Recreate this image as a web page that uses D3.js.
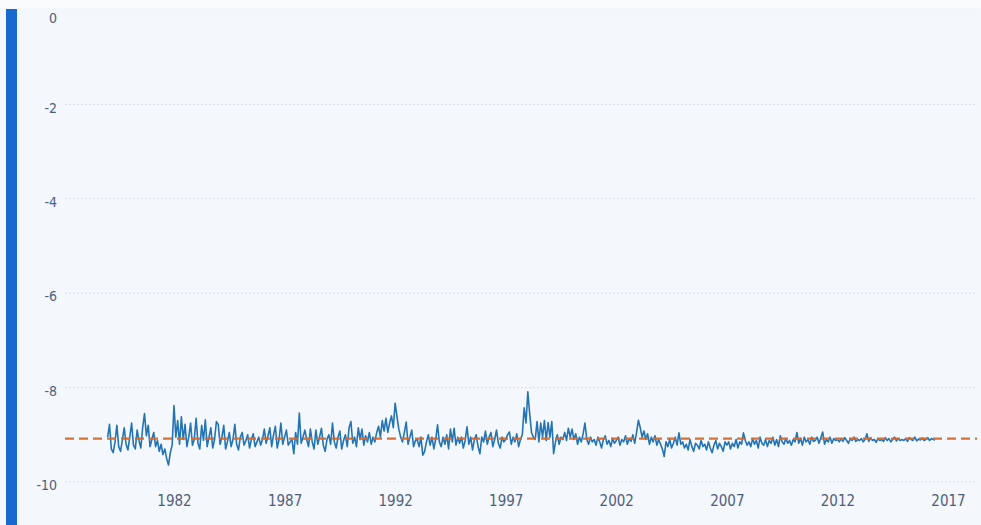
<!DOCTYPE html>
<html>
<head>
<meta charset="utf-8">
<script src="https://cdn.jsdelivr.net/npm/d3@7"></script>
<style>
  html, body { margin: 0; padding: 0; background: #f4f7fb; }
  svg { display: block; }
</style>
</head>
<body>
<svg id="chart" width="981" height="525"></svg>
<script>
// ---- data (monthly values, starting Jan 1979) ----
const startYear = 1979.0;
const values1979_1984 = [
  -9.05, -8.78, -9.30, -9.38, -9.15, -8.80, -9.25, -9.35, -9.10, -8.85, -9.20, -9.32,
  -9.05, -8.75, -9.22, -9.30, -8.90, -9.12, -9.28, -8.85, -8.55, -9.02, -8.80, -9.25,
  -9.10, -8.95, -9.25, -9.12, -9.35, -9.20, -9.42, -9.30, -9.50, -9.64, -9.38, -9.22,
  -8.38, -9.05, -8.70, -9.20, -8.62, -9.10, -8.78, -9.25, -9.05, -8.75, -9.22, -9.10,
  -8.65, -9.18, -9.30, -8.80, -9.12, -8.68, -9.25, -9.05, -8.85, -9.28, -9.10, -8.72,
  -8.78, -9.20, -9.05, -8.80, -9.30, -9.15, -8.95, -9.25, -9.10, -8.78, -9.20, -9.32
];
const values1985_1990 = [
  -9.05, -8.95, -9.22, -9.12, -9.00, -9.28, -9.10, -8.98, -9.25, -9.15, -9.05, -9.22,
  -9.10, -8.88, -9.18, -9.02, -8.85, -9.25, -9.00, -8.82, -9.28, -9.10, -8.75, -9.20,
  -9.05, -8.90, -9.22, -9.15, -9.10, -9.40, -8.95, -9.20, -8.54, -9.18, -9.05, -8.90,
  -9.10, -9.25, -8.88, -9.15, -9.30, -8.90, -9.20, -9.05, -8.86, -9.22, -9.35, -9.10,
  -9.00, -9.20, -8.75, -9.15, -9.28, -9.05, -8.92, -9.30, -9.12, -9.00, -9.25, -8.85,
  -8.72, -9.18, -9.05, -9.25, -8.85, -9.10, -8.88, -9.22, -9.02, -9.15, -8.95, -9.20
];
const values1991_1996 = [
  -9.05, -9.15, -8.95, -8.82, -9.05, -8.70, -8.92, -8.65, -8.95, -8.75, -8.60, -8.85,
  -8.33, -8.62, -8.88, -9.05, -9.15, -8.95, -8.73, -9.20, -9.05, -8.90, -9.25, -9.12,
  -9.10, -9.25, -9.05, -9.43, -9.35, -9.15, -9.00, -9.22, -9.05, -9.30, -9.10, -8.79,
  -9.15, -9.25, -9.05, -9.20, -9.00, -9.30, -8.88, -9.15, -8.86, -9.22, -9.05, -9.18,
  -9.05, -9.28, -9.12, -8.83, -9.20, -9.05, -9.32, -9.10, -9.00, -9.25, -9.40, -9.05,
  -9.15, -8.92, -9.20, -9.05, -8.95, -9.25, -9.10, -8.90, -9.18, -9.28, -9.05, -9.15
];
const values1997_2002 = [
  -9.10, -9.00, -8.94, -9.20, -9.05, -9.15, -8.98, -9.25, -9.10, -9.00, -8.43, -8.75,
  -8.09, -8.55, -8.95, -9.05, -9.10, -8.72, -9.15, -8.75, -9.05, -8.70, -9.12, -8.74,
  -9.05, -8.72, -9.40, -9.15, -9.00, -9.20, -9.05, -9.10, -8.95, -9.12, -8.86, -9.05,
  -8.88, -9.10, -8.98, -9.20, -9.05, -9.15, -8.98, -8.75, -9.10, -9.20, -9.05, -9.15,
  -9.10, -9.22, -9.05, -9.15, -9.28, -9.10, -9.02, -9.20, -9.12, -9.25, -9.08, -9.18,
  -9.12, -9.05, -9.22, -9.10, -9.15, -9.02, -9.20, -9.08, -9.14, -9.00, -9.18, -8.95
];
const values2003_2008 = [
  -8.69, -8.85, -9.05, -8.92, -9.10, -8.98, -9.20, -9.05, -9.15, -9.02, -9.22, -9.10,
  -9.20, -9.30, -9.46, -9.15, -9.25, -9.10, -9.28, -9.18, -9.05, -9.22, -8.96, -9.20,
  -9.15, -9.28, -9.20, -9.32, -9.10, -9.25, -9.35, -9.18, -9.22, -9.30, -9.12, -9.25,
  -9.20, -9.32, -9.15, -9.28, -9.38, -9.22, -9.12, -9.30, -9.18, -9.25, -9.35, -9.15,
  -9.22, -9.15, -9.30, -9.18, -9.25, -9.10, -9.28, -9.15, -9.20, -8.96, -9.12, -9.22,
  -9.15, -9.25, -9.08, -9.20, -9.12, -9.28, -9.05, -9.18, -9.22, -9.10, -9.25, -9.12
];
const values2009_2016 = [
  -9.18, -9.05, -9.22, -9.10, -9.25, -9.02, -9.15, -9.20, -9.08, -9.18, -9.12, -9.22,
  -9.10, -9.15, -8.95, -9.18, -9.08, -9.22, -9.05, -9.15, -9.10, -9.20, -9.05, -9.14,
  -9.12, -9.05, -9.18, -9.06, -8.94, -9.20, -9.10, -9.15, -9.05, -9.18, -9.08, -9.12,
  -9.10, -9.15, -9.08, -9.14, -9.06, -9.12, -9.18, -9.08, -9.12, -9.05, -9.14, -9.10,
  -9.12, -9.08, -9.15, -9.10, -8.98, -9.14, -9.06, -9.12, -9.10, -9.16, -9.08, -9.12,
  -9.10, -9.14, -9.06, -9.12, -9.08, -9.15, -9.10, -9.05, -9.13, -9.08, -9.12, -9.10,
  -9.12, -9.08, -9.14, -9.06, -9.10, -9.12, -9.05, -9.13, -9.09, -9.11, -9.07, -9.12,
  -9.10, -9.06, -9.12, -9.08, -9.10, -9.11
];
const meanLevel = -9.08;
const yTicks = [0, -2, -4, -6, -8, -10];
const xTicks = [1982, 1987, 1992, 1997, 2002, 2007, 2012, 2017];

// ---- build series ----
const allValues = [].concat(values1979_1984, values1985_1990, values1991_1996,
                            values1997_2002, values2003_2008, values2009_2016);
const series = allValues.map((v, i) => ({ t: startYear + i / 12, v }));

// ---- layout ----
const svg = d3.select("#chart");
const W = 981, H = 525;
const plotLeft = 65, plotRight = 977;

svg.append("rect").attr("x", 0).attr("y", 0).attr("width", W).attr("height", H).attr("fill", "#f4f7fb");
svg.append("rect").attr("x", 0).attr("y", 0).attr("width", W).attr("height", 8).attr("fill", "#f9fbfd");
// left accent bar
svg.append("rect").attr("x", 6).attr("y", 9).attr("width", 11).attr("height", H - 9).attr("fill", "#1769cf");

const x = d3.scaleLinear().domain([1982, 2017]).range([174, 948]);
const y = d3.scaleLinear().domain([-10, 0]).range([482, 10]);

// gridlines
svg.append("g").selectAll("line").data(yTicks).join("line")
  .attr("x1", plotLeft).attr("x2", plotRight)
  .attr("y1", d => y(d)).attr("y2", d => y(d))
  .attr("stroke", d => d === 0 ? "#eef2f6" : "#d9dfe7")
  .attr("stroke-width", 1)
  .attr("stroke-dasharray", "2,2");

const fontFam = "'DejaVu Sans Condensed', 'DejaVu Sans', sans-serif";
const textColor = "#4f607c";

// y axis
const yAxis = d3.axisLeft(y).tickValues(yTicks).tickSize(0).tickPadding(0)
  .tickFormat(d => d3.format("d")(d).replace("−", "-"));
const gy = svg.append("g").attr("transform", "translate(57,0)").call(yAxis);
gy.select(".domain").remove();
gy.selectAll("text")
  .attr("font-family", fontFam).attr("font-size", 14).attr("fill", textColor)
  .attr("dy", d => d === 0 ? "0.9em" : "0.55em");

// x axis
const xAxis = d3.axisBottom(x).tickValues(xTicks).tickSize(0).tickPadding(0).tickFormat(d3.format("d"));
const gx = svg.append("g").attr("transform", "translate(0,495)").call(xAxis);
gx.select(".domain").remove();
gx.selectAll("text")
  .attr("font-family", fontFam).attr("font-size", 15).attr("fill", textColor);

// series line
const line = d3.line().x(d => x(d.t)).y(d => y(d.v));
svg.append("path").datum(series)
  .attr("fill", "none").attr("stroke", "#2474b5").attr("stroke-width", 1.6)
  .attr("stroke-linejoin", "round")
  .attr("d", line);

// mean dashed line
svg.append("line")
  .attr("x1", plotLeft).attr("x2", plotRight)
  .attr("y1", y(meanLevel)).attr("y2", y(meanLevel))
  .attr("stroke", "#d8692a").attr("stroke-width", 2.3)
  .attr("stroke-dasharray", "9,5")
  .attr("opacity", 0.95);
</script>
</body>
</html>
